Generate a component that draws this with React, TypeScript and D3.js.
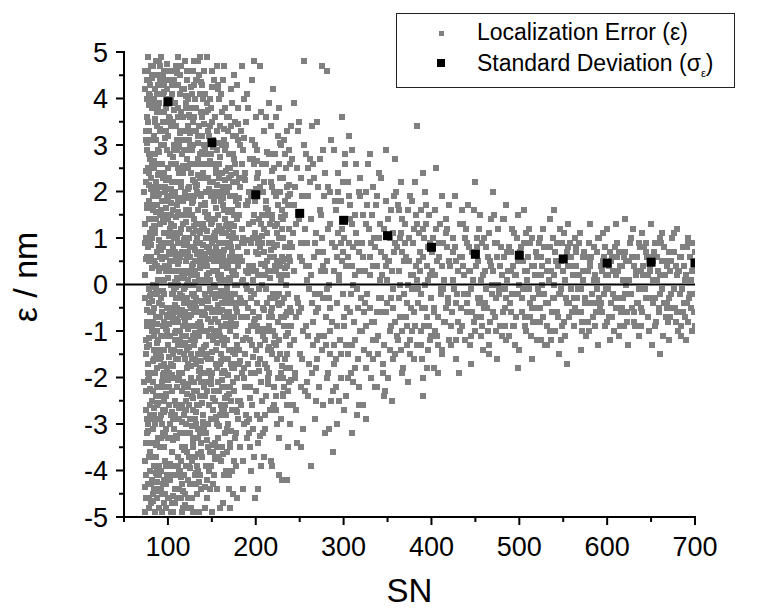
import React, { useEffect, useRef } from "react";
import * as d3 from "d3";

// ---- data (SN, localization error in nm) ----
const errSN073_100 = [
74,4.6, 76,-3.2, 78,1.4, 80,-0.6, 82,3.8, 84,-4.4, 86,2.2, 88,-1.8, 90,0.3, 92,4.9, 94,-2.7, 96,1.1, 98,-3.9, 99,2.9, 75,-1.2, 77,0.8, 79,-4.8, 81,3.1, 83,-2.3, 85,4.2, 87,-0.2, 89,1.9, 91,-3.5, 93,2.6, 95,-1.4, 97,4.4, 100,-4.6, 73,2.0, 76,3.6, 78,-2.0, 80,4.3, 82,-1.0, 84,0.5, 86,-3.7, 88,3.4, 90,-4.1, 92,1.6, 94,-0.9, 96,3.0, 98,-2.4, 74,-3.8, 77,2.5, 79,-0.4, 81,-2.9, 83,4.7, 85,-4.9, 87,1.7, 89,-1.5, 91,3.3, 93,-3.0, 95,0.1, 97,-2.2, 99,4.0, 75,1.0, 77,-4.3, 79,3.9, 81,0.6, 83,-3.4, 85,2.8, 87,-2.6, 89,4.5, 91,-0.7, 93,-4.5, 95,3.7, 97,-1.1, 99,0.9, 74,0.2, 76,-0.8, 78,4.1, 80,-3.6, 82,1.2, 84,-1.6, 86,4.8, 88,-4.0, 90,2.4, 92,-2.8, 94,3.5, 96,-4.2, 98,1.5, 100,3.2, 73,-2.1, 75,3.3, 77,-3.0, 79,1.8, 81,-4.7, 83,0.0, 85,-1.9, 87,3.7, 89,-3.3, 91,1.3, 93,4.1, 95,-2.5, 97,2.1, 99,-0.5, 76,4.0, 78,-4.6, 80,2.7, 82,-2.5, 84,3.2, 86,-0.1, 88,0.7, 90,-2.2, 92,-4.0, 94,2.3, 96,-1.7, 98,3.8, 100,-1.3, 74,-4.9, 76,1.7, 78,-1.3, 80,0.9, 82,4.5, 84,-2.8, 86,-4.4, 88,2.0, 90,3.9, 92,-0.3, 94,-3.2, 96,4.6, 98,-3.1, 100,0.4, 75,-2.7, 77,4.9, 79,-3.7, 81,2.3, 83,-0.8, 85,1.1, 87,-4.6, 89,2.6, 91,-1.6, 93,0.6, 95,4.3, 97,-3.8, 99,1.9, 80,-1.9, 84,4.0, 88,-2.9, 92,3.0, 96,-0.2, 100,2.5, 82,-3.7, 86,1.4, 90,-4.8, 94,0.8, 98,-4.3, 79,4.4, 83,2.0, 87,-1.0, 91,4.7, 95,-4.7, 99,-2.0
];
const errSN073_100b = [
73.5,-0.3, 74.5,3.1, 75.5,-4.1, 76.5,0.6, 77.5,-1.7, 78.5,2.8, 79.5,-2.6, 80.5,4.7, 81.5,-0.9, 82.5,1.9, 83.5,-4.5, 84.5,2.5, 85.5,-3.0, 86.5,0.0, 87.5,4.1, 88.5,-1.2, 89.5,-3.9, 90.5,1.5, 91.5,-2.4, 92.5,3.7, 93.5,-0.6, 94.5,4.5, 95.5,-3.5, 96.5,0.4, 97.5,-4.8, 98.5,2.3, 99.5,-1.0, 73.5,4.2, 74.5,-1.5, 75.5,2.2, 76.5,-2.9, 77.5,3.5, 78.5,-0.1, 79.5,1.1, 80.5,-4.3, 81.5,2.6, 82.5,-2.1, 83.5,3.9, 84.5,-0.5, 85.5,1.4, 86.5,-2.4, 87.5,-4.1, 88.5,2.9, 89.5,0.8, 90.5,-1.4, 91.5,4.4, 92.5,-3.3, 93.5,1.8, 94.5,-2.0, 95.5,0.9, 96.5,-4.5, 97.5,3.3, 98.5,-0.7, 99.5,4.6, 74.0,1.3, 75.0,-3.4, 76.0,2.9, 77.0,-1.9, 78.0,0.5, 79.0,2.4, 80.0,-2.8, 81.0,4.0, 82.0,-4.2, 83.0,1.6, 84.0,-1.1, 85.0,3.5, 86.0,-1.5, 87.0,0.4, 88.0,-3.4, 89.0,3.8, 90.0,-0.4, 91.0,2.1, 92.0,-1.1, 93.0,-2.1, 94.0,4.1, 95.0,-0.8, 96.0,2.4, 97.0,-3.2, 98.0,0.3, 99.0,-4.1, 100.0,1.4, 74.5,-2.3, 76.5,4.4, 78.5,-3.4, 80.5,1.7, 82.5,-0.6, 84.5,-3.9, 86.5,3.1, 88.5,0.1, 90.5,-2.9, 92.5,0.9, 94.5,-4.3, 96.5,2.0, 98.5,-1.8, 73.8,0.9, 75.8,-0.9, 77.8,4.6, 79.8,-4.0, 81.8,1.0, 83.8,-1.4, 85.8,2.1, 87.8,-2.2, 89.8,4.8, 91.8,-4.4, 93.8,3.0, 95.8,-1.9, 97.8,0.6, 99.8,3.5, 74.8,-4.6, 76.8,1.0, 78.8,3.3, 80.8,-0.2, 82.8,-3.1, 84.8,1.2, 86.8,-0.7, 88.8,4.3, 90.8,0.6, 92.8,-4.9, 94.8,1.4, 96.8,-2.7, 98.8,4.2
];
const errSN100_140 = [
101,2.3, 103,-1.7, 105,4.1, 107,-3.3, 109,0.6, 111,3.6, 113,-4.4, 115,1.2, 117,-0.9, 119,4.8, 121,-2.5, 123,0.1, 125,3.0, 127,-3.8, 129,1.8, 131,-1.2, 133,4.4, 135,-4.9, 137,2.6, 139,-0.4, 102,-3.0, 104,1.5, 106,-0.7, 108,3.9, 110,-2.2, 112,0.9, 114,-4.0, 116,2.8, 118,-1.5, 120,3.3, 122,-3.6, 124,1.0, 126,-2.0, 128,4.6, 130,-0.2, 132,2.1, 134,-3.1, 136,0.4, 138,3.7, 140,-1.9, 101,-4.6, 103,3.4, 105,-2.3, 107,1.9, 109,-1.0, 111,-3.9, 113,2.4, 115,-0.3, 117,3.1, 119,-2.7, 121,1.6, 123,-4.2, 125,0.8, 127,2.9, 129,-3.4, 131,4.0, 133,-0.6, 135,1.3, 137,-2.4, 139,4.3, 102,0.5, 104,-2.8, 106,3.5, 108,-4.7, 110,1.7, 112,-1.3, 114,4.5, 116,-3.5, 118,0.2, 120,-0.8, 122,2.7, 124,-2.6, 126,3.8, 128,-1.1, 130,1.4, 132,-4.3, 134,3.2, 136,-1.8, 138,0.7, 140,2.4, 101,1.1, 103,-0.5, 105,2.0, 107,-1.4, 109,4.7, 111,0.0, 113,-2.0, 115,3.7, 117,-4.8, 119,0.3, 121,-1.1, 123,2.5, 125,-3.2, 127,0.4, 129,3.5, 131,-2.9, 133,1.0, 135,-0.1, 137,4.9, 139,-3.7, 102,3.9, 104,-4.1, 106,0.8, 108,-0.6, 110,2.9, 112,-3.7, 114,1.1, 116,-1.9, 118,4.2, 120,-4.5, 122,0.6, 124,3.1, 126,-0.9, 128,-2.7, 130,3.6, 132,0.9, 134,-1.5, 136,2.3, 138,-4.4, 140,0.1, 101,-2.2, 103,0.9, 105,-3.9, 107,4.4, 109,-2.6, 111,1.8, 113,3.0, 115,-4.6, 117,1.3, 119,-0.6, 121,3.9, 123,-1.7, 125,-0.4, 127,1.5, 129,-4.9, 131,2.2, 133,-2.3, 135,3.4, 137,-1.0, 139,1.2, 102,-1.1, 104,2.6, 106,-4.9, 108,0.3, 110,-3.3, 112,4.3, 114,-0.2, 116,0.7, 118,-2.8, 120,1.9, 122,-0.3, 124,-3.9, 126,2.4, 128,0.0, 130,-2.3, 132,3.3, 134,0.5, 136,-3.2, 138,1.9, 140,-3.0, 101,3.6, 105,0.3, 109,-4.1, 113,0.5, 117,-2.1, 121,-3.0, 125,1.9, 129,-0.9, 133,-3.9, 137,0.9, 103,4.6, 107,-0.1, 111,-1.6, 115,2.1, 119,1.0, 123,4.0, 127,-4.6, 131,-0.4, 135,-2.6, 139,2.8, 104,0.0, 108,-2.0, 112,2.2, 116,-4.3, 120,0.7, 124,1.6, 128,-3.5, 132,-1.7, 136,4.1, 140,-0.6, 106,1.6, 110,4.6, 114,-1.2, 118,-3.2, 122,4.4, 126,-1.5, 130,0.8, 134,2.7, 138,-2.1, 106,-2.9, 110,-0.5, 114,3.3, 118,2.5, 122,-1.8, 126,-4.8, 130,4.8, 134,-4.0, 138,-0.9
];
const errSN100_140b = [
100.5,-3.3, 101.5,0.4, 102.5,2.8, 103.5,-2.0, 104.5,4.3, 105.5,-0.8, 106.5,1.0, 107.5,-4.4, 108.5,2.0, 109.5,-1.6, 110.5,3.1, 111.5,-0.3, 112.5,-2.9, 113.5,1.5, 114.5,-3.8, 115.5,4.2, 116.5,0.2, 117.5,-1.3, 118.5,2.9, 119.5,-3.5, 120.5,0.5, 121.5,4.6, 122.5,-2.2, 123.5,1.2, 124.5,-0.7, 125.5,-4.3, 126.5,3.3, 127.5,-1.6, 128.5,1.9, 129.5,-2.1, 130.5,0.3, 131.5,3.8, 132.5,-3.0, 133.5,2.0, 134.5,-0.9, 135.5,4.5, 136.5,-4.1, 137.5,1.7, 138.5,-1.4, 139.5,0.5,
100.5,1.8, 101.5,-1.9, 102.5,-4.2, 103.5,4.0, 104.5,-0.2, 105.5,2.6, 106.5,-3.1, 107.5,0.7, 108.5,-1.2, 109.5,3.4, 110.5,-4.6, 111.5,2.5, 112.5,0.6, 113.5,-3.2, 114.5,2.2, 115.5,-1.1, 116.5,-4.9, 117.5,3.6, 118.5,-0.1, 119.5,1.5, 120.5,-2.7, 121.5,0.0, 122.5,3.4, 123.5,-3.7, 124.5,2.1, 125.5,0.6, 126.5,-1.2, 127.5,4.1, 128.5,-3.3, 129.5,0.2, 130.5,-1.6, 131.5,1.3, 132.5,4.4, 133.5,-4.5, 134.5,0.9, 135.5,-2.0, 136.5,2.8, 137.5,-0.6, 138.5,3.2, 139.5,-2.8,
100.8,4.4, 102.2,-0.6, 103.8,1.3, 105.2,-4.7, 106.8,3.0, 108.2,-2.5, 109.8,1.0, 111.2,4.9, 112.8,-1.9, 114.2,0.3, 115.8,-2.6, 117.2,2.4, 118.8,-4.1, 120.2,3.8, 121.8,-1.4, 123.2,0.7, 124.8,-2.9, 126.2,1.5, 127.8,-0.2, 129.2,4.3, 130.8,-3.7, 132.2,-0.5, 133.8,2.7, 135.2,-1.1, 136.8,0.6, 138.2,-3.4, 139.8,4.0,
101.2,-2.6, 102.8,1.2, 104.2,-3.6, 105.8,0.5, 107.2,2.9, 108.8,-0.3, 110.2,-2.0, 111.8,3.8, 113.2,-1.0, 114.8,4.7, 116.2,-2.3, 117.8,-0.4, 119.2,2.0, 120.8,-3.9, 122.2,1.6, 123.8,-4.8, 125.2,2.6, 126.8,-0.5, 128.2,3.0, 129.8,-1.3, 131.2,0.5, 132.8,-2.6, 134.2,4.8, 135.8,0.1, 137.2,-3.6, 138.8,2.3,
101.7,0.7, 103.3,-4.9, 104.7,2.2, 106.3,-1.5, 107.7,-2.8, 109.3,2.6, 110.7,0.1, 112.3,-4.0, 113.7,4.1, 115.3,-0.6, 116.7,1.8, 118.3,-2.2, 119.7,-0.9, 121.3,2.9, 122.7,-4.6, 124.3,0.3, 125.7,3.6, 127.3,-2.4, 128.7,1.1, 130.3,-4.1, 131.7,2.6, 133.3,0.2, 134.7,-3.3, 136.3,1.1, 137.7,-1.9, 139.3,3.6,
102.0,1.9, 104.0,-1.4, 106.0,-0.2, 108.0,1.1, 110.0,-1.0, 112.0,-0.8, 114.0,0.6, 116.0,1.5, 118.0,-0.7, 120.0,-1.6, 122.0,0.9, 124.0,-0.4, 126.0,0.2, 128.0,-0.9, 130.0,1.9, 132.0,-0.3, 134.0,1.6, 136.0,-0.8, 138.0,-1.4, 140.0,1.3
];
const errSN140_180 = [
141,1.2, 143,-2.1, 145,0.4, 147,3.2, 149,-0.8, 151,-3.6, 153,2.0, 155,-1.4, 157,4.3, 159,0.9, 161,-2.7, 163,1.7, 165,-0.3, 167,3.6, 169,-4.1, 171,0.6, 173,-1.8, 175,2.7, 177,-0.5, 179,1.4, 142,-0.2, 144,2.8, 146,-1.6, 148,0.1, 150,4.6, 152,-2.3, 154,1.0, 156,-4.4, 158,2.3, 160,-0.9, 162,3.0, 164,-1.3, 166,0.5, 168,-3.0, 170,2.1, 172,-2.5, 174,0.2, 176,3.5, 178,-1.1, 180,-2.9, 141,-3.1, 143,3.7, 145,-1.0, 147,-2.6, 149,1.9, 151,0.3, 153,-0.6, 155,2.5, 157,-3.3, 159,-1.7, 161,1.1, 163,-4.7, 165,2.9, 167,-0.1, 169,1.6, 171,-3.4, 173,3.9, 175,-0.7, 177,1.0, 179,-2.0, 142,4.1, 144,-4.2, 146,1.5, 148,-0.5, 150,-1.9, 152,2.6, 154,-3.4, 156,0.7, 158,-1.0, 160,1.8, 162,-2.2, 164,4.7, 166,-2.8, 168,0.4, 170,-0.6, 172,1.3, 174,-4.5, 176,-0.2, 178,2.4, 180,0.8, 141,2.6, 143,-0.3, 145,4.9, 147,0.7, 149,-3.9, 151,1.4, 153,-1.1, 155,-0.2, 157,1.5, 159,3.4, 161,-0.4, 163,-1.6, 165,0.9, 167,-2.4, 169,2.8, 171,1.9, 173,-0.9, 175,-2.3, 177,3.2, 179,0.0, 142,-2.4, 144,0.8, 146,-3.5, 148,2.2, 150,0.6, 152,-1.0, 154,3.6, 156,-1.8, 158,-3.7, 160,0.2, 162,1.2, 164,-0.7, 166,-4.0, 168,2.5, 170,-1.4, 172,4.2, 174,1.1, 176,-1.5, 178,-3.2, 180,3.1, 141,-1.5, 143,1.0, 145,-4.6, 147,2.0, 149,3.8, 151,-1.2, 153,4.4, 155,-2.9, 157,0.2, 159,-4.8, 161,3.7, 163,0.6, 165,-1.9, 167,1.3, 169,-0.7, 171,-4.8, 173,0.7, 175,4.5, 177,-2.7, 179,2.2, 142,0.6, 146,3.3, 150,-4.9, 154,-0.3, 158,4.0, 162,-3.5, 166,2.0, 170,3.6, 174,-2.1, 178,0.5, 144,-1.5, 148,-4.4, 152,0.5, 156,2.9, 160,-2.6, 164,1.6, 168,-1.6, 172,-0.3, 176,1.9, 180,-0.4, 143,2.3, 147,-1.1, 151,3.1, 155,0.8, 159,-0.6, 163,2.1, 167,-3.6, 171,0.1, 175,-3.8, 179,-1.3
];
const errSN140_180b = [
140.5,3.0, 141.5,-0.6, 142.5,1.7, 143.5,-3.9, 144.5,0.2, 145.5,2.3, 146.5,-1.9, 147.5,4.0, 148.5,-2.9, 149.5,0.7, 150.5,-0.6, 151.5,2.2, 152.5,-4.1, 153.5,1.1, 154.5,-1.7, 155.5,3.3, 156.5,-0.8, 157.5,0.5, 158.5,-2.3, 159.5,2.0, 160.5,-3.8, 161.5,0.4, 162.5,4.4, 163.5,-0.9, 164.5,1.4, 165.5,-2.6, 166.5,3.0, 167.5,-1.2, 168.5,0.8, 169.5,-4.4, 170.5,2.5, 171.5,-0.8, 172.5,1.0, 173.5,-2.7, 174.5,3.2, 175.5,0.3, 176.5,-3.3, 177.5,1.8, 178.5,-0.6, 179.5,3.8,
140.5,-2.2, 141.5,4.6, 142.5,-4.8, 143.5,0.5, 144.5,-0.5, 145.5,-3.0, 146.5,2.6, 147.5,-0.1, 148.5,1.3, 149.5,-1.6, 150.5,3.5, 151.5,-2.7, 152.5,0.0, 153.5,-3.7, 154.5,2.4, 155.5,0.3, 156.5,1.9, 157.5,-2.1, 158.5,0.9, 159.5,-1.1, 160.5,4.1, 161.5,-1.9, 162.5,-0.2, 163.5,3.1, 164.5,-3.2, 165.5,0.4, 166.5,-0.9, 167.5,2.0, 168.5,-2.2, 169.5,1.2, 170.5,-1.0, 171.5,3.4, 172.5,-4.0, 173.5,0.3, 174.5,-0.4, 175.5,1.5, 176.5,2.6, 177.5,-1.4, 178.5,4.3, 179.5,-2.5,
140.8,0.4, 142.2,2.9, 143.8,-1.3, 145.2,1.0, 146.8,-4.0, 148.2,3.4, 149.8,-0.2, 151.2,-4.3, 152.8,1.8, 154.2,-1.0, 155.8,4.7, 157.2,-0.5, 158.8,-2.8, 160.2,1.2, 161.8,2.4, 163.2,-2.2, 164.8,0.1, 166.2,1.6, 167.8,-3.1, 169.2,-0.2, 170.8,0.9, 172.2,-1.7, 173.8,2.2, 175.2,-1.4, 176.8,0.6, 178.2,-4.6, 179.8,1.7,
141.2,-1.0, 142.8,-3.2, 144.2,3.9, 145.8,-0.3, 147.2,1.4, 148.8,-2.0, 150.2,0.9, 151.8,1.9, 153.2,-2.5, 154.8,0.6, 156.2,-3.0, 157.8,2.6, 159.2,0.1, 160.8,-1.5, 162.2,0.7, 163.8,-4.1, 165.2,3.8, 166.8,-1.6, 168.2,-0.4, 169.8,2.3, 171.2,-2.2, 172.8,0.5, 174.2,2.8, 175.8,-0.9, 177.2,0.2, 178.8,-1.7,
141.7,0.1, 143.3,2.0, 144.7,-2.3, 146.3,0.8, 147.7,-3.6, 149.3,2.8, 150.7,-1.1, 152.3,0.3, 153.7,1.4, 155.3,-3.5, 156.7,4.2, 158.3,-0.2, 159.7,0.6, 161.3,-1.2, 162.7,2.1, 164.3,-2.7, 165.7,1.1, 167.3,-0.6, 168.7,3.3, 170.3,-3.5, 171.7,0.8, 173.3,1.6, 174.7,-1.8, 176.3,0.0, 177.7,-3.9, 179.3,0.4
];
const errSN074_170c = [
75.3,2.45, 77.7,-3.15, 80.3,0.85, 82.7,-1.65, 85.3,3.55, 87.7,-4.25, 90.3,1.95, 92.7,-0.45, 95.3,4.15, 97.7,-2.35, 100.3,0.15, 102.7,-3.85, 105.3,2.75, 107.7,-1.05, 110.3,4.55, 112.7,-2.65, 115.3,0.65, 117.7,-4.45, 120.3,1.35, 122.7,-0.95, 125.3,3.25, 127.7,-3.05, 130.3,0.05, 132.7,2.15, 135.3,-1.85, 137.7,4.35, 140.3,-2.95, 142.7,1.55, 145.3,-0.35, 147.7,2.65, 150.3,-3.45, 152.7,0.95, 155.3,-1.25, 157.7,3.05, 160.3,-0.15, 162.7,1.85, 165.3,-2.45, 167.7,0.35,
76.3,-0.55, 78.7,3.85, 81.3,-2.85, 83.7,1.25, 86.3,-4.05, 88.7,2.35, 91.3,-1.45, 93.7,0.55, 96.3,-3.25, 98.7,4.75, 101.3,-0.85, 103.7,2.05, 106.3,-4.55, 108.7,1.45, 111.3,-2.05, 113.7,3.25, 116.3,-0.25, 118.7,-3.55, 121.3,2.55, 123.7,-1.35, 126.3,4.25, 128.7,-2.45, 131.3,0.75, 133.7,-3.65, 136.3,1.95, 138.7,-0.65, 141.3,3.45, 143.7,-1.55, 146.3,0.25, 148.7,-2.15, 151.3,2.95, 153.7,-0.75, 156.3,1.15, 158.7,-3.05, 161.3,0.45, 163.7,-1.15, 166.3,2.45, 168.7,-1.95,
74.3,-4.35, 76.7,1.65, 79.3,-2.25, 81.7,4.45, 84.3,-0.05, 86.7,-3.45, 89.3,2.85, 91.7,-1.75, 94.3,0.35, 96.7,3.15, 99.3,-4.15, 101.7,1.05, 104.3,-1.95, 106.7,3.75, 109.3,-3.25, 111.7,0.45, 114.3,-0.65, 116.7,2.55, 119.3,-4.75, 121.7,0.25, 124.3,3.65, 126.7,-1.75, 129.3,1.25, 131.7,-4.05, 134.3,2.35, 136.7,-0.35, 139.3,-2.55, 141.7,1.75, 144.3,-3.35, 146.7,2.05, 149.3,-0.95, 151.7,-2.45, 154.3,1.65, 156.7,-0.45, 159.3,2.75, 161.7,-2.05, 164.3,0.75, 166.7,-3.15, 169.3,1.05,
75.7,3.05, 78.3,-1.15, 80.7,2.05, 83.3,-4.65, 85.7,0.45, 88.3,-2.55, 90.7,3.35, 93.3,-0.15, 95.7,-2.75, 98.3,1.65, 100.7,-1.55, 103.3,3.95, 105.7,-3.35, 108.3,0.05, 110.7,-0.75, 113.3,1.85, 115.7,-2.95, 118.3,0.85, 120.7,4.05, 123.3,-2.15, 125.7,-0.45, 128.3,2.25, 130.7,-1.05, 133.3,0.65, 135.7,-4.25, 138.3,2.85, 140.7,-1.35, 143.3,0.55, 145.7,3.75, 148.3,-0.15, 150.7,1.35, 153.3,-3.75, 155.7,2.15, 158.3,0.15, 160.7,-1.65, 163.3,3.35, 165.7,-0.85, 168.3,1.55,
74.7,0.55, 77.3,-2.05, 79.7,4.05, 82.3,-0.35, 84.7,2.65, 87.3,-1.25, 89.7,-4.45, 92.3,0.75, 94.7,-1.95, 97.3,2.25, 99.7,-0.65, 102.3,3.55, 104.7,-2.75, 107.3,1.25, 109.7,-0.05, 112.3,2.95, 114.7,-4.15, 117.3,0.15, 119.7,-1.25, 122.3,2.05, 124.7,-3.95, 127.3,1.75, 129.7,-0.25, 132.3,-2.75, 134.7,3.05, 137.3,-1.45, 139.7,0.85, 142.3,-4.35, 144.7,1.15, 147.3,-1.85, 149.7,4.25, 152.3,-0.55, 154.7,-2.85, 157.3,0.65, 159.7,-0.25, 162.3,-3.65, 164.7,2.25, 167.3,-0.05, 169.7,-2.35,
76.0,-1.35, 78.0,2.15, 80.0,-0.25, 82.0,0.35, 84.0,-2.65, 86.0,1.55, 88.0,-0.85, 90.0,0.95, 92.0,-1.55, 94.0,-0.15, 96.0,1.35, 98.0,-0.95, 100.0,-2.05, 102.0,0.65, 104.0,1.75, 106.0,-1.75, 108.0,-0.45, 110.0,0.15, 112.0,1.55, 114.0,-1.45, 116.0,-0.55, 118.0,0.95, 120.0,-0.05, 122.0,-2.35, 124.0,1.85, 126.0,-0.65, 128.0,0.45, 130.0,-0.55, 132.0,1.15, 134.0,-0.85, 136.0,0.35, 138.0,-1.65, 140.0,0.65, 142.0,-0.65, 144.0,1.45, 146.0,-0.75, 148.0,0.55, 150.0,-1.45, 152.0,1.05, 154.0,-0.05, 156.0,-1.05, 158.0,1.25, 160.0,0.55, 162.0,-0.55, 164.0,-1.85, 166.0,1.25, 168.0,-0.35, 170.0,0.15
];
const errSN180_240 = [
181,1.5, 183,-0.7, 185,2.9, 187,-2.0, 189,0.3, 191,3.8, 193,-1.2, 195,0.9, 197,-3.1, 199,1.8, 201,-0.4, 203,2.4, 205,-1.6, 207,0.0, 209,3.3, 211,-2.8, 213,1.1, 215,-0.9, 217,2.2, 219,-3.9, 221,0.6, 223,-1.3, 225,1.7, 227,-0.2, 229,3.0, 231,-2.4, 233,0.8, 235,-0.6, 237,1.9, 239,-1.8, 182,-2.5, 184,0.5, 186,-3.8, 188,2.4, 190,-0.1, 192,1.3, 194,-2.2, 196,4.4, 198,-0.8, 200,0.7, 202,-3.4, 204,1.0, 206,3.7, 208,-1.1, 210,0.4, 212,2.6, 214,-2.0, 216,-0.3, 218,1.4, 220,-1.0, 222,2.8, 224,-3.0, 226,0.2, 228,-1.5, 230,1.2, 232,-0.7, 234,2.5, 236,-2.6, 238,0.6, 240,3.4, 181,-1.4, 183,3.3, 185,-4.4, 187,0.9, 189,-2.8, 191,-0.5, 193,2.0, 195,-1.9, 197,0.4, 199,-4.6, 201,2.9, 203,-1.0, 205,0.8, 207,-2.5, 209,1.2, 211,0.2, 213,-1.8, 215,3.9, 217,-0.6, 219,1.5, 221,-2.2, 223,3.6, 225,-0.8, 227,1.0, 229,-2.9, 231,0.5, 233,-1.6, 235,2.1, 237,-3.5, 239,0.9, 182,2.1, 184,-1.9, 186,1.0, 188,-0.4, 190,4.1, 192,-3.2, 194,0.3, 196,-1.3, 198,2.6, 200,-2.3, 202,0.2, 204,-0.7, 206,-3.9, 208,2.0, 210,-1.7, 212,-0.1, 214,1.6, 216,-2.7, 218,-0.5, 220,4.2, 222,-0.3, 224,1.3, 226,-4.1, 228,2.3, 230,-0.4, 232,3.1, 234,-1.1, 236,0.4, 238,-2.1, 240,-0.6, 185,0.1, 189,1.7, 193,-3.5, 197,2.7, 201,-0.9, 205,4.7, 209,-3.7, 213,0.5, 217,-1.4, 221,2.0, 225,-2.0, 229,0.1, 233,1.5, 237,-0.2, 187,-3.0, 191,1.8, 195,-0.3, 199,3.0, 203,-4.4, 207,1.5, 211,-1.2, 215,0.9, 219,-0.7, 223,0.3, 227,-3.3, 231,2.3, 235,-1.5, 239,2.6, 184,4.7, 198,4.8, 212,3.6, 226,3.8, 230,-4.2, 236,3.3
];
const errSN180_240b = [
180.5,-1.7, 181.5,0.6, 182.5,3.0, 183.5,-2.6, 184.5,1.2, 185.5,-0.4, 186.5,2.3, 187.5,-1.5, 188.5,0.0, 189.5,-3.3, 190.5,1.7, 191.5,-1.0, 192.5,0.4, 193.5,2.7, 194.5,-0.9, 195.5,-2.6, 196.5,1.0, 197.5,-0.2, 198.5,1.5, 199.5,-1.9, 200.5,3.6, 201.5,-2.8, 202.5,0.9, 203.5,1.4, 204.5,-1.3, 205.5,0.2, 206.5,-2.1, 207.5,2.6, 208.5,-0.5, 209.5,0.7, 210.5,-3.1, 211.5,1.8, 212.5,-1.0, 213.5,0.3, 214.5,2.8, 215.5,-1.9, 216.5,0.6, 217.5,-3.8, 218.5,2.1, 219.5,-0.2, 220.5,0.8, 221.5,-1.1, 222.5,1.9, 223.5,-2.4, 224.5,0.5, 225.5,3.2, 226.5,-1.2, 227.5,0.4, 228.5,-0.7, 229.5,1.6, 230.5,-2.0, 231.5,1.0, 232.5,-0.3, 233.5,2.8, 234.5,-1.8, 235.5,0.2, 236.5,-0.9, 237.5,1.2, 238.5,-3.0, 239.5,0.5,
180.8,2.3, 182.2,-3.5, 183.8,0.9, 185.2,-1.2, 186.8,4.0, 188.2,-2.2, 189.8,0.7, 191.2,-1.7, 192.8,2.0, 194.2,-4.0, 195.8,3.1, 197.2,-0.6, 198.8,1.1, 200.2,-1.4, 201.8,2.3, 203.2,-0.1, 204.8,-2.9, 206.2,1.3, 207.8,-1.0, 209.2,2.2, 210.8,0.2, 212.2,-2.4, 213.8,1.5, 215.2,-0.7, 216.8,3.4, 218.2,-1.5, 219.8,0.3, 221.2,2.5, 222.8,-2.7, 224.2,1.1, 225.8,-0.4, 227.2,2.0, 228.8,-1.9, 230.2,0.6, 231.8,-0.9, 233.2,1.8, 234.8,0.0, 236.2,-2.3, 237.8,2.9, 239.2,-1.3,
181.7,-0.3, 184.3,2.6, 186.3,-1.8, 188.7,3.5, 190.3,-0.7, 192.7,-2.9, 194.7,1.9, 196.3,0.1, 198.3,-3.7, 200.7,0.3, 202.7,-1.7, 204.3,2.1, 206.7,0.9, 208.7,-3.2, 210.3,1.5, 212.7,-0.4, 214.3,-1.4, 216.3,1.3, 218.7,0.9, 220.3,-2.6, 222.3,0.4, 224.7,-1.6, 226.7,2.6, 228.3,0.2, 230.7,1.4, 232.7,-2.2, 234.3,0.8, 236.7,1.7, 238.7,-0.5
];
const errSN170_240c = [
171.3,2.35, 173.7,-1.45, 176.3,0.55, 178.7,-2.75, 181.3,1.85, 183.7,-0.35, 186.3,3.15, 188.7,-1.15, 191.3,0.25, 193.7,-2.45, 196.3,1.35, 198.7,-0.75, 201.3,2.65, 203.7,-1.85, 206.3,0.45, 208.7,-0.95, 211.3,1.65, 213.7,-2.15, 216.3,0.15, 218.7,2.45, 221.3,-1.25, 223.7,0.85, 226.3,-0.45, 228.7,1.45, 231.3,-2.35, 233.7,0.35, 236.3,-1.05, 238.7,1.95,
172.3,-3.15, 174.7,1.25, 177.3,-0.85, 179.7,3.45, 182.3,-1.65, 184.7,0.05, 187.3,2.25, 189.7,-2.95, 192.3,0.95, 194.7,-0.15, 197.3,-1.55, 199.7,2.05, 202.3,0.65, 204.7,-3.25, 207.3,1.05, 209.7,-0.55, 212.3,2.85, 214.7,-1.35, 217.3,0.75, 219.7,-2.65, 222.3,1.25, 224.7,-0.25, 227.3,3.05, 229.7,-1.75, 232.3,0.55, 234.7,-0.65, 237.3,2.15, 239.7,-2.05
];
const errSN240_320 = [
241,0.8, 243,-1.2, 245,2.1, 247,-0.3, 249,1.4, 251,-2.2, 253,0.5, 255,3.0, 257,-0.9, 259,1.9, 261,-1.7, 263,0.2, 265,2.6, 267,-2.9, 269,1.1, 271,-0.5, 273,1.6, 275,-1.4, 277,0.7, 279,2.4, 281,-2.0, 283,0.0, 285,1.3, 287,-0.8, 289,2.9, 291,-1.6, 293,0.6, 295,-2.5, 297,1.8, 299,-0.2, 301,1.0, 303,-1.3, 305,2.2, 307,-0.6, 309,0.4, 311,-2.1, 313,1.5, 315,-0.1, 317,2.0, 319,-1.0, 242,-2.6, 244,1.7, 246,-0.7, 248,3.3, 250,-1.5, 252,0.9, 254,-3.1, 256,1.2, 258,0.1, 260,-2.4, 262,2.7, 264,-0.4, 266,0.6, 268,-1.8, 270,3.5, 272,-1.1, 274,0.3, 276,-2.6, 278,1.9, 280,-0.7, 282,1.2, 284,-1.5, 286,3.1, 288,-2.3, 290,0.8, 292,-0.4, 294,2.4, 296,-1.2, 298,0.5, 300,-2.7, 302,2.6, 304,-0.5, 306,0.9, 308,-1.9, 310,1.3, 312,-0.8, 314,2.6, 316,-1.6, 318,0.7, 320,-0.3, 243,3.9, 247,-3.4, 251,2.3, 255,4.8, 259,-1.1, 263,-3.9, 267,0.9, 271,2.1, 275,4.7, 279,-3.2, 281,4.6, 283,-3.1, 285,-1.0, 288,-3.6, 291,1.6, 295,0.2, 299,2.2, 303,-2.4, 307,1.7, 311,0.0, 315,-2.8, 319,1.9, 245,-1.9, 249,-0.6, 253,1.9, 257,2.8, 261,0.4, 265,-1.3, 269,-2.5, 273,-0.2, 277,2.9, 281,-0.1, 285,2.0, 289,-1.3, 293,-3.0, 297,0.9, 301,-0.9, 305,-2.0, 309,2.9, 313,-1.2, 317,0.3, 246,1.3, 258,-2.1, 270,-1.2, 282,-1.9, 294,1.1, 306,3.2, 318,-2.2, 236,-4.2, 252,-3.5, 264,3.4, 276,0.4, 298,3.6, 310,-3.2
];
const errSN320_420 = [
321,0.9, 323,-1.4, 325,2.0, 327,-0.2, 329,1.2, 331,-2.0, 333,0.4, 335,-0.8, 337,1.7, 339,-1.1, 341,0.1, 343,2.3, 345,-1.7, 347,0.6, 349,-0.4, 351,1.4, 353,-1.0, 355,0.3, 357,1.9, 359,-1.5, 361,0.8, 363,-0.3, 365,1.1, 367,-1.9, 369,0.5, 371,-0.7, 373,1.6, 375,-1.2, 377,0.2, 379,0.9, 381,-0.9, 383,1.3, 385,-0.1, 387,0.7, 389,-1.6, 391,1.0, 393,-0.5, 395,0.4, 397,1.5, 399,-1.1, 401,0.3, 403,-0.6, 405,1.2, 407,-1.3, 409,0.6, 411,-0.2, 413,0.9, 415,-0.8, 417,1.4, 419,-0.4, 322,-2.6, 324,0.3, 326,-0.9, 328,2.6, 330,-0.5, 332,1.5, 334,-1.6, 336,0.8, 338,-2.2, 340,1.0, 342,-0.6, 344,0.2, 346,-1.3, 348,1.8, 350,-2.0, 352,0.5, 354,-0.3, 356,1.1, 358,-0.8, 360,2.0, 362,-1.2, 364,0.0, 366,0.7, 368,-1.8, 370,1.3, 372,-0.4, 374,0.5, 376,-1.5, 378,1.8, 380,-0.6, 382,0.4, 384,-1.3, 386,1.1, 388,-0.2, 390,0.6, 392,-0.9, 394,1.7, 396,-1.4, 398,0.2, 400,-0.3, 402,1.0, 404,-1.0, 406,0.5, 408,-0.7, 410,1.3, 412,-1.5, 414,0.1, 416,-0.5, 418,0.8, 420,-1.2, 348,2.9, 359,2.7, 384,3.4, 390,2.4, 336,-2.2, 347,-2.3, 368,-1.8, 390,-2.0, 390,-2.4, 325,-2.9, 330,2.8, 340,2.4, 355,-2.5, 365,2.2, 375,1.9, 395,-1.8, 405,2.5, 412,1.9, 333,-1.2, 343,-0.3, 353,1.0, 363,1.6, 373,-2.1, 383,0.1, 393,2.0, 403,-1.8, 413,-0.1, 326,1.3, 338,0.4, 356,-1.6, 366,-1.0, 378,-0.1, 388,1.6, 398,0.9, 408,-1.9, 418,1.2
];
const errSN240_400b = [
240.5,-0.9, 242.5,1.1, 244.5,-2.0, 246.5,2.5, 248.5,-0.4, 250.5,0.6, 252.5,-1.6, 254.5,1.9, 256.5,-2.3, 258.5,0.9, 260.5,-0.1, 262.5,1.4, 264.5,-1.9, 266.5,2.3, 268.5,-0.6, 270.5,0.7, 272.5,-2.2, 274.5,1.5, 276.5,-0.3, 278.5,0.3, 280.5,-1.3, 282.5,2.1, 284.5,-0.5, 286.5,0.9, 288.5,-1.7, 290.5,1.8, 292.5,-0.9, 294.5,0.1, 296.5,-2.0, 298.5,1.2, 300.5,-0.7, 302.5,0.4, 304.5,-1.5, 306.5,1.9, 308.5,-0.2, 310.5,0.8, 312.5,-1.8, 314.5,1.1, 316.5,-0.5, 318.5,2.3,
320.5,-1.0, 322.5,0.6, 324.5,-0.4, 326.5,1.7, 328.5,-1.5, 330.5,0.2, 332.5,-0.8, 334.5,1.0, 336.5,-1.2, 338.5,1.9, 340.5,-0.3, 342.5,0.7, 344.5,-1.9, 346.5,1.2, 348.5,-0.6, 350.5,0.5, 352.5,-1.4, 354.5,1.6, 356.5,-0.1, 358.5,0.9, 360.5,-1.1, 362.5,0.3, 364.5,-0.7, 366.5,1.4, 368.5,-0.2, 370.5,0.6, 372.5,-1.3, 374.5,1.0, 376.5,-0.5, 378.5,0.2, 380.5,-1.6, 382.5,1.5, 384.5,-0.4, 386.5,0.3, 388.5,-1.0, 390.5,1.2, 392.5,0.0, 394.5,-0.7, 396.5,0.8, 398.5,-1.2,
241.5,2.7, 245.5,-2.7, 249.5,3.5, 253.5,-1.0, 257.5,0.4, 261.5,2.2, 265.5,-0.8, 269.5,-1.6, 273.5,2.7, 277.5,-1.1, 281.5,0.5, 285.5,-2.5, 289.5,0.3, 293.5,2.0, 297.5,-1.5, 301.5,2.8, 305.5,0.6, 309.5,-1.3, 313.5,0.2, 317.5,-2.6,
321.5,1.5, 325.5,-1.8, 329.5,0.6, 333.5,2.1, 337.5,-0.6, 341.5,1.3, 345.5,-2.4, 349.5,0.1, 353.5,-0.9, 357.5,0.7, 361.5,1.7, 365.5,-1.4, 369.5,0.9, 373.5,0.0, 377.5,-1.0, 381.5,2.2, 385.5,0.5, 389.5,-0.5, 393.5,1.3, 397.5,-0.9,
243.7,0.3, 251.7,-0.5, 259.7,2.5, 267.7,-0.2, 275.7,1.0, 283.7,-0.3, 291.7,-2.2, 299.7,0.7, 307.7,1.4, 315.7,0.9, 323.7,-0.6, 331.7,0.9, 339.7,-1.5, 347.7,0.4, 355.7,-0.5, 363.7,1.0, 371.7,-0.9, 379.7,1.2, 387.7,-1.3, 395.7,0.1
];
const errSN420_560 = [
421,0.4, 423,-0.6, 425,1.0, 427,1.9, 429,-0.2, 431,-1.9, 433,0.6, 435,-0.9, 437,0.2, 439,1.2, 441,-0.4, 443,0.8, 445,-1.1, 447,0.1, 449,2.2, 451,-0.7, 453,0.5, 455,-0.3, 457,0.9, 459,-1.4, 461,0.3, 463,-0.5, 465,1.1, 467,-0.8, 469,0.0, 471,1.5, 473,-1.0, 475,0.6, 477,-0.2, 479,0.8, 481,-0.6, 483,1.4, 485,-1.2, 487,0.3, 489,-0.4, 491,0.7, 493,-0.9, 495,0.2, 497,1.0, 499,-1.8, 501,0.5, 503,-0.3, 505,0.9, 507,-0.7, 509,0.1, 511,1.2, 513,-1.1, 515,0.4, 517,-0.5, 519,0.7, 521,-0.1, 523,-0.8, 525,0.6, 527,1.2, 529,-1.3, 531,0.3, 533,-0.4, 535,0.8, 537,-0.6, 539,0.2, 541,-1.0, 543,0.9, 545,-0.2, 547,0.5, 549,-0.9, 551,1.1, 553,-0.3, 555,0.4, 557,-0.7, 559,0.6, 422,-1.3, 424,0.7, 426,-0.1, 428,0.5, 430,-0.8, 432,1.3, 434,-0.5, 436,0.4, 438,-1.2, 440,0.9, 442,-0.2, 444,0.3, 446,-0.6, 448,1.6, 450,-1.0, 452,0.8, 454,-0.4, 456,0.1, 458,-0.9, 460,1.0, 462,-0.1, 464,0.6, 466,-1.3, 468,0.4, 470,-0.6, 472,0.9, 474,-0.3, 476,1.2, 478,-0.9, 480,0.2, 482,1.4, 484,-0.5, 486,0.7, 488,-1.1, 490,0.3, 492,-0.2, 494,1.1, 496,-0.7, 498,0.5, 500,-1.4, 502,0.8, 504,-0.1, 506,0.3, 508,-1.0, 510,0.6, 512,-0.4, 514,1.0, 516,-0.8, 518,0.2, 520,-1.2, 522,0.9, 524,-0.5, 526,0.4, 528,-0.2, 530,0.8, 532,-0.9, 534,0.1, 536,-1.2, 538,1.0, 540,-0.3, 542,0.5, 544,-0.7, 546,1.2, 548,-0.1, 550,0.3, 552,-1.1, 554,0.7, 556,-0.4, 558,0.9, 560,-0.6, 435,1.6, 445,-1.7, 455,1.5, 465,-1.5, 475,-1.6, 485,1.7, 495,-1.3, 505,1.6, 515,-1.6, 525,-1.2, 535,1.4, 545,-1.5, 555,1.3, 428,-1.6, 442,1.7, 456,-1.1, 470,2.0, 484,-0.1, 498,1.5, 512,-0.7, 526,0.0, 540,1.6, 554,-1.7
];
const errSN560_700 = [
561,0.2, 563,-0.5, 565,0.7, 567,-0.1, 569,1.1, 571,-0.8, 573,0.3, 575,-0.3, 577,0.6, 579,-1.0, 581,0.4, 583,-0.2, 585,0.8, 587,-0.6, 589,0.1, 591,1.0, 593,-0.4, 595,0.5, 597,-0.9, 599,0.2, 601,-0.1, 603,0.7, 605,-0.7, 607,0.3, 609,-0.3, 611,0.9, 613,-1.1, 615,0.4, 617,-0.5, 619,0.6, 621,0.0, 623,-0.8, 625,0.5, 627,-0.2, 629,1.2, 631,-0.6, 633,0.3, 635,-0.4, 637,0.8, 639,-0.9, 641,0.2, 643,-0.1, 645,0.6, 647,-0.7, 649,0.4, 651,-1.3, 653,0.7, 655,-0.3, 657,0.1, 659,-0.6, 661,0.9, 663,1.1, 665,-0.4, 667,0.5, 669,-0.8, 671,0.3, 673,-0.2, 675,0.7, 677,-0.5, 679,0.2, 681,-1.0, 683,0.6, 685,-0.1, 687,0.4, 689,-0.7, 691,0.8, 693,-0.3, 695,0.1, 697,-1.0, 699,0.5, 562,-0.9, 564,0.4, 566,-0.3, 568,0.9, 570,-0.6, 572,0.1, 574,0.7, 576,-1.1, 578,0.3, 580,-0.4, 582,0.6, 584,-0.7, 586,0.2, 588,-0.1, 590,1.0, 592,-0.5, 594,0.3, 596,-0.2, 598,0.8, 600,-0.8, 602,0.4, 604,-0.4, 606,0.6, 608,-1.0, 610,0.2, 612,-0.3, 614,0.7, 616,-0.6, 618,0.1, 620,-0.2, 622,0.5, 624,-1.3, 626,0.9, 628,-0.5, 630,0.4, 632,-0.9, 634,0.6, 636,-0.1, 638,0.3, 640,-0.6, 642,0.8, 644,-0.3, 646,0.2, 648,-1.0, 650,0.6, 652,-0.4, 654,0.9, 656,-0.8, 658,0.3, 660,-0.2, 662,0.5, 664,-1.1, 666,0.2, 668,-0.5, 670,0.7, 672,-0.7, 674,1.0, 676,-0.1, 678,0.4, 680,-0.6, 682,0.3, 684,-0.9, 686,0.8, 688,-0.4, 690,0.2, 692,-0.8, 694,0.6, 696,-0.5, 698,0.9, 700,-0.2, 580,1.3, 600,1.2, 620,1.4, 640,1.1, 660,-1.5, 680,1.2, 700,-0.9, 570,-1.4, 590,-1.3, 610,1.3, 650,1.3, 670,-1.2, 690,-1.2
];
const errSN400_700b = [
400.5,0.7, 402.5,-0.5, 404.5,0.2, 406.5,-1.1, 408.5,0.9, 410.5,-0.1, 412.5,0.4, 414.5,-0.8, 416.5,1.1, 418.5,-0.3, 420.5,0.5, 422.5,-0.9, 424.5,0.1, 426.5,0.8, 428.5,-0.4, 430.5,0.3, 432.5,-1.0, 434.5,0.6, 436.5,-0.2, 438.5,1.0, 440.5,-0.6, 442.5,0.3, 444.5,-0.1, 446.5,0.7, 448.5,-0.8, 450.5,0.4, 452.5,-0.3, 454.5,1.2, 456.5,-0.7, 458.5,0.2, 460.5,-0.4, 462.5,0.8, 464.5,-1.0, 466.5,0.5, 468.5,-0.2, 470.5,0.3, 472.5,-0.7, 474.5,0.9, 476.5,-0.1, 478.5,0.4, 480.5,-1.1, 482.5,0.6, 484.5,-0.3, 486.5,0.1, 488.5,0.8, 490.5,-0.6, 492.5,0.4, 494.5,-0.9, 496.5,0.2, 498.5,-0.2, 500.5,0.7, 502.5,-0.6, 504.5,0.5, 506.5,-0.9, 508.5,0.3, 510.5,-0.1, 512.5,0.9, 514.5,-0.5, 516.5,0.4, 518.5,-0.8, 520.5,0.6, 522.5,-0.2, 524.5,0.2, 526.5,-0.7, 528.5,0.8, 530.5,-0.4, 532.5,0.5, 534.5,-1.0, 536.5,0.3, 538.5,-0.3, 540.5,0.7, 542.5,-0.6, 544.5,0.4, 546.5,-0.2, 548.5,0.9, 550.5,-0.8, 552.5,0.1, 554.5,-0.4, 556.5,0.6, 558.5,-0.1, 560.5,0.4,
562.5,-0.3, 564.5,0.8, 566.5,-0.6, 568.5,0.2, 570.5,-0.1, 572.5,0.6, 574.5,-0.4, 576.5,0.3, 578.5,-0.8, 580.5,0.5, 582.5,-0.2, 584.5,0.1, 586.5,-0.9, 588.5,0.7, 590.5,-0.3, 592.5,0.4, 594.5,-0.6, 596.5,0.6, 598.5,-0.1, 600.5,0.2, 602.5,-0.7, 604.5,0.5, 606.5,-0.2, 608.5,0.8, 610.5,-0.5, 612.5,0.3, 614.5,-0.9, 616.5,0.4, 618.5,-0.3, 620.5,0.7, 622.5,-0.6, 624.5,0.1, 626.5,-0.2, 628.5,0.6, 630.5,-0.8, 632.5,0.2, 634.5,-0.4, 636.5,0.9, 638.5,-0.5, 640.5,0.4, 642.5,-0.1, 644.5,0.7, 646.5,-0.7, 648.5,0.3, 650.5,-0.3, 652.5,0.5, 654.5,-0.9, 656.5,0.6, 658.5,-0.5, 660.5,0.2, 662.5,-0.1, 664.5,0.8, 666.5,-0.7, 668.5,0.4, 670.5,-0.3, 672.5,0.5, 674.5,-0.5, 676.5,0.7, 678.5,-0.8, 680.5,0.3, 682.5,-0.2, 684.5,0.6, 686.5,-0.6, 688.5,0.1, 690.5,-0.4, 692.5,0.9, 694.5,-0.2, 696.5,0.3, 698.5,-0.6,
403.7,1.6, 411.7,-1.4, 419.7,1.7, 427.7,-1.2, 435.7,1.3, 443.7,-1.3, 451.7,1.0, 459.7,-0.5, 467.7,1.4, 475.7,0.0, 483.7,-0.9, 491.7,1.2, 499.7,0.0, 507.7,1.1, 515.7,-0.3, 523.7,1.0, 531.7,-1.3, 539.7,0.0, 547.7,-1.2, 555.7,0.8, 563.7,1.0, 571.7,-1.0, 579.7,0.9, 587.7,-0.4, 595.7,1.1, 603.7,-1.2, 611.7,0.6, 619.7,-0.9, 627.7,1.0, 635.7,-1.1, 643.7,0.9, 651.7,0.1, 659.7,1.0, 667.7,-0.4, 675.7,1.1, 683.7,-1.1, 691.7,1.0, 699.7,0.7
];

const stdSN = [100, 150, 200, 250, 300, 350, 400, 450, 500, 550, 600, 650, 700];
const stdValue = [3.93, 3.05, 1.93, 1.53, 1.38, 1.05, 0.8, 0.65, 0.63, 0.55, 0.46, 0.48, 0.46];

const xMajorTicks = [100, 200, 300, 400, 500, 600, 700];
const xMinorTicks = [50, 150, 250, 350, 450, 550, 650];
const yMajorTicks = [-5, -4, -3, -2, -1, 0, 1, 2, 3, 4, 5];
const yMinorTicks = [-4.5, -3.5, -2.5, -1.5, -0.5, 0.5, 1.5, 2.5, 3.5, 4.5];

const legendLabels = ["Localization Error (\u03b5)", "Standard Deviation (\u03c3"];

const W = 774;
const H = 610;
const FONT = "'Liberation Sans', Arial, Helvetica, sans-serif";

function toPairs(flat: number[]) {
  const out: [number, number][] = [];
  for (let i = 0; i + 1 < flat.length; i += 2) out.push([flat[i], flat[i + 1]]);
  return out;
}

export default function App() {
  const ref = useRef<SVGSVGElement | null>(null);

  useEffect(() => {
    const svg = d3.select(ref.current);
    svg.selectAll("*").remove();

    const x = d3.scaleLinear().domain([50, 700]).range([124, 695]);
    const y = d3.scaleLinear().domain([-5, 5]).range([517, 52]);

    const errPoints = [
      errSN073_100, errSN073_100b, errSN100_140, errSN100_140b,
      errSN140_180, errSN140_180b, errSN074_170c,
      errSN180_240, errSN180_240b, errSN170_240c,
      errSN240_320, errSN320_420, errSN240_400b,
      errSN420_560, errSN560_700, errSN400_700b,
    ].flatMap(toPairs);

    svg
      .append("defs")
      .append("clipPath")
      .attr("id", "plotClip")
      .append("rect")
      .attr("x", x(50))
      .attr("y", y(5))
      .attr("width", x(700) - x(50))
      .attr("height", y(-5) - y(5));

    const plot = svg.append("g").attr("clip-path", "url(#plotClip)");

    const ps = 6;
    plot
      .append("g")
      .attr("shape-rendering", "crispEdges")
      .selectAll("rect")
      .data(errPoints)
      .join("rect")
      .attr("x", (d) => x(d[0]) - ps / 2)
      .attr("y", (d) => y(d[1]) - ps / 2)
      .attr("width", ps)
      .attr("height", ps)
      .attr("fill", "#808080");

    plot
      .append("line")
      .attr("x1", x(50))
      .attr("x2", x(700))
      .attr("y1", y(0))
      .attr("y2", y(0))
      .attr("stroke", "#000")
      .attr("stroke-width", 2);

    const bs = 9;
    plot
      .append("g")
      .selectAll("rect")
      .data(stdSN.map((s, i) => [s, stdValue[i]]))
      .join("rect")
      .attr("x", (d) => x(d[0]) - bs / 2)
      .attr("y", (d) => y(d[1]) - bs / 2)
      .attr("width", bs)
      .attr("height", bs)
      .attr("fill", "#000");

    const axisG = svg.append("g").attr("stroke", "#000").attr("stroke-width", 2);
    axisG.append("line").attr("x1", x(50)).attr("x2", x(700) + 1).attr("y1", y(-5)).attr("y2", y(-5));
    axisG.append("line").attr("x1", x(50)).attr("x2", x(50)).attr("y1", y(5) - 1).attr("y2", y(-5));

    axisG.selectAll("line.xmaj").data(xMajorTicks).join("line").attr("class", "xmaj")
      .attr("x1", (d) => x(d)).attr("x2", (d) => x(d)).attr("y1", y(-5)).attr("y2", y(-5) + 8);
    axisG.selectAll("line.xmin").data(xMinorTicks).join("line").attr("class", "xmin")
      .attr("x1", (d) => x(d)).attr("x2", (d) => x(d)).attr("y1", y(-5)).attr("y2", y(-5) + 5);
    axisG.selectAll("line.ymaj").data(yMajorTicks).join("line").attr("class", "ymaj")
      .attr("x1", x(50) - 8).attr("x2", x(50)).attr("y1", (d) => y(d)).attr("y2", (d) => y(d));
    axisG.selectAll("line.ymin").data(yMinorTicks).join("line").attr("class", "ymin")
      .attr("x1", x(50) - 5).attr("x2", x(50)).attr("y1", (d) => y(d)).attr("y2", (d) => y(d));

    svg.append("g").selectAll("text").data(xMajorTicks).join("text")
      .attr("x", (d) => x(d)).attr("y", 556).attr("text-anchor", "middle")
      .attr("font-family", FONT).attr("font-size", 27).text((d) => String(d));

    svg.append("g").selectAll("text").data(yMajorTicks).join("text")
      .attr("x", 108).attr("y", (d) => y(d) + 9.5).attr("text-anchor", "end")
      .attr("font-family", FONT).attr("font-size", 27).text((d) => String(d));

    svg.append("text")
      .attr("x", (x(50) + x(700)) / 2).attr("y", 602).attr("text-anchor", "middle")
      .attr("font-family", FONT).attr("font-size", 33).text("SN");

    svg.append("text")
      .attr("transform", `translate(37,277) rotate(-90)`)
      .attr("text-anchor", "middle")
      .attr("font-family", FONT).attr("font-size", 34).text("\u03b5 / nm");

    const lg = svg.append("g");
    lg.append("rect").attr("x", 396.5).attr("y", 13.5).attr("width", 338).attr("height", 74)
      .attr("fill", "#fff").attr("stroke", "#222").attr("stroke-width", 1);
    lg.append("rect").attr("x", 439).attr("y", 31).attr("width", 5).attr("height", 5).attr("fill", "#808080");
    lg.append("rect").attr("x", 437).attr("y", 59).attr("width", 8).attr("height", 8).attr("fill", "#000");
    lg.append("text").attr("x", 477).attr("y", 40).attr("font-family", FONT).attr("font-size", 23).text(legendLabels[0]);
    const t2 = lg.append("text").attr("x", 477).attr("y", 71).attr("font-family", FONT).attr("font-size", 23);
    t2.append("tspan").text(legendLabels[1]);
    t2.append("tspan").attr("dy", 6).attr("font-size", 11).text("\u03b5");
    t2.append("tspan").attr("dy", -6).text(")");
  }, []);

  return (
    <svg ref={ref} width={W} height={H} style={{ position: "absolute", left: 0, top: 0, background: "#fff" }} />
  );
}
